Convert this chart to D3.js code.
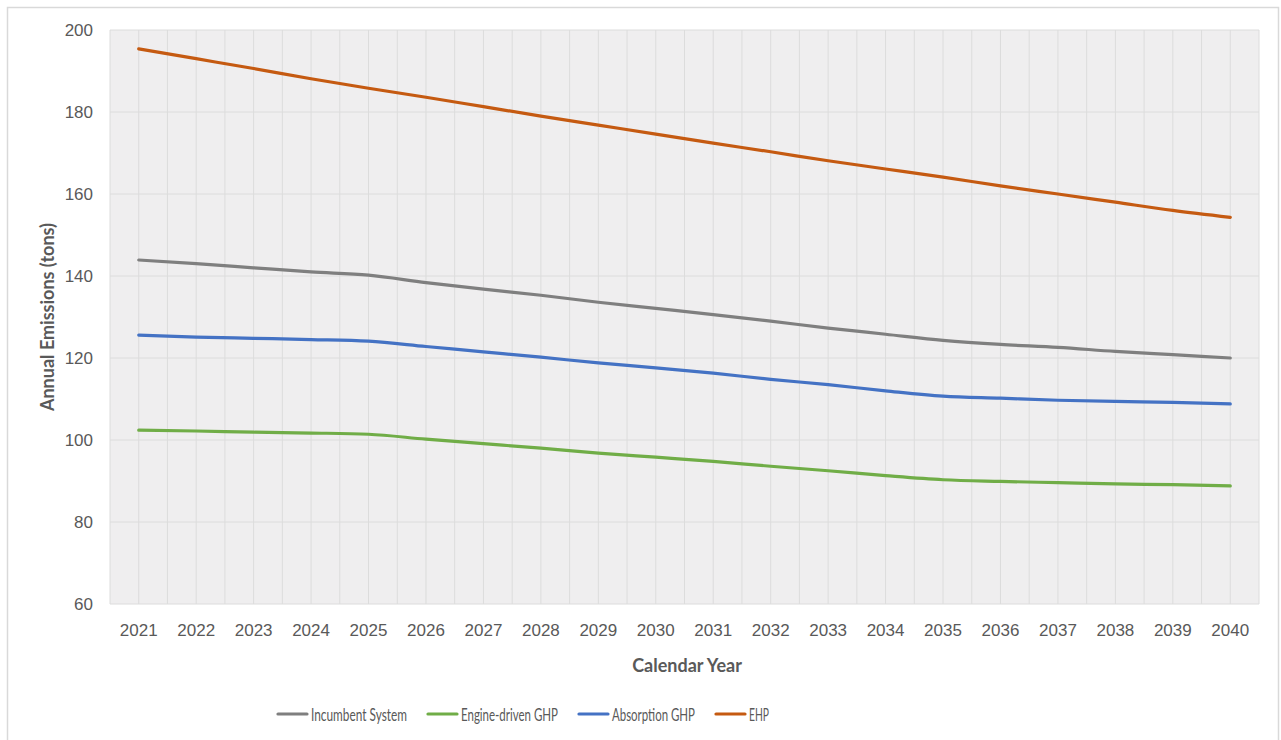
<!DOCTYPE html>
<html><head><meta charset="utf-8">
<script src="https://cdn.jsdelivr.net/npm/d3@7/dist/d3.min.js"></script>
<style>body{margin:0;background:#fff;}svg{display:block;font-family:Lato,"Open Sans",sans-serif;}</style>
</head><body><svg id="c" width="1281" height="740"></svg>
<script>
const years = [2021,2022,2023,2024,2025,2026,2027,2028,2029,2030,2031,2032,2033,2034,2035,2036,2037,2038,2039,2040];
const incumbent = [143.9,143.0,142.0,141.0,140.2,138.4,136.8,135.3,133.6,132.1,130.6,129.0,127.3,125.8,124.3,123.3,122.6,121.6,120.8,120.0];
const engineGHP = [102.4,102.2,101.9,101.7,101.4,100.2,99.1,98.0,96.8,95.8,94.8,93.6,92.5,91.3,90.3,89.9,89.6,89.3,89.1,88.8];
const absorptionGHP = [125.6,125.1,124.8,124.5,124.1,122.8,121.5,120.2,118.8,117.6,116.3,114.8,113.5,112.0,110.7,110.2,109.7,109.4,109.2,108.8];
const ehp = [195.4,193.0,190.6,188.1,185.8,183.6,181.3,179.0,176.8,174.6,172.4,170.3,168.1,166.1,164.1,162.0,160.0,158.0,156.0,154.3];
const seriesNames = ["Incumbent System","Engine-driven GHP","Absorption GHP","EHP"];
const yTicks = [60,80,100,120,140,160,180,200];

const colors = ["#7f7f7f","#70ad47","#4472c4","#c55a11"];
const seriesData = [incumbent, engineGHP, absorptionGHP, ehp];

const svg = d3.select("#c");
const L=110, R=1259, T=30, B=604;

// outer border
svg.append("path").attr("d","M7.5,740 V7.5 H1278.5 V740").attr("fill","none").attr("stroke","#d9d9d9").attr("stroke-width",1.5);

const x = d3.scaleBand().domain(years).range([L,R]).paddingInner(0).paddingOuter(0);
const y = d3.scaleLinear().domain([60,200]).range([B,T]);

svg.append("rect").attr("x",L).attr("y",T).attr("width",R-L).attr("height",B-T).attr("fill","#efeeef");

// vertical gridlines at band boundaries and centers
const vlines = [];
years.forEach(yr=>{ vlines.push(x(yr)); vlines.push(x(yr)+x.bandwidth()/2); });
vlines.push(R);
svg.append("g").selectAll("line").data(vlines).join("line")
  .attr("x1",d=>d).attr("x2",d=>d).attr("y1",T).attr("y2",B)
  .attr("stroke","#dcdcdc").attr("stroke-width",1);

// horizontal gridlines
svg.append("g").selectAll("line").data(yTicks).join("line")
  .attr("x1",L).attr("x2",R).attr("y1",d=>y(d)).attr("y2",d=>y(d))
  .attr("stroke","#dcdcdc").attr("stroke-width",1);

// y axis
const yAxis = svg.append("g").attr("transform",`translate(${L},0)`)
  .call(d3.axisLeft(y).tickValues(yTicks).tickSize(0).tickPadding(17));
yAxis.select(".domain").remove();
yAxis.selectAll("text").attr("fill","#595959").attr("font-size",17);

// x axis
const xAxis = svg.append("g").attr("transform",`translate(0,${B})`)
  .call(d3.axisBottom(x).tickSize(0));
xAxis.select(".domain").remove();
xAxis.selectAll("text").attr("fill","#595959").attr("font-size",17).attr("y",32).attr("dy",0);

// titles
svg.append("text").attr("x",687).attr("y",672).attr("text-anchor","middle")
  .attr("font-size",18).attr("font-weight","bold").attr("fill","#595959").text("Calendar Year");
svg.append("text").attr("transform","translate(54,317) rotate(-90)").attr("text-anchor","middle")
  .attr("font-size",18).attr("font-weight","bold").attr("fill","#595959").text("Annual Emissions (tons)");

// lines
const line = d3.line().x((d,i)=>x(years[i])+x.bandwidth()/2).y(d=>y(d)).curve(d3.curveMonotoneX);
svg.append("g").selectAll("path").data(seriesData).join("path")
  .attr("d",d=>line(d)).attr("fill","none").attr("stroke",(d,i)=>colors[i])
  .attr("stroke-width",3.2).attr("stroke-linecap","round");

// legend (condensed text to mimic narrow font)
const legX = [278,428,579,716];
const legW = [96,97,83,20];
const lg = svg.append("g").selectAll("g").data(seriesNames).join("g")
  .attr("transform",(d,i)=>`translate(${legX[i]},714)`);
lg.append("line").attr("x1",0).attr("x2",29).attr("y1",0).attr("y2",0)
  .attr("stroke",(d,i)=>colors[i]).attr("stroke-width",3.2).attr("stroke-linecap","round");
lg.append("text").attr("x",33).attr("y",7).attr("font-size",17)
  .attr("textLength",(d,i)=>legW[i]).attr("lengthAdjust","spacingAndGlyphs")
  .attr("fill","#595959").text(d=>d);
</script></body></html>
